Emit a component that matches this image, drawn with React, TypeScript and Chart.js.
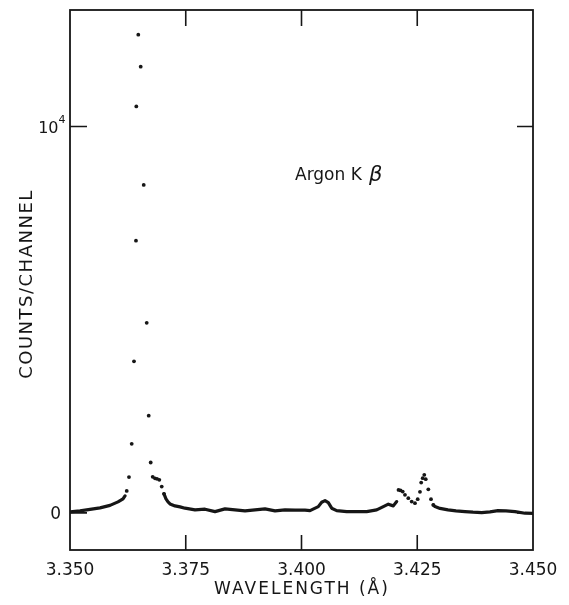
import React, { useEffect, useRef } from "react";
import { Chart, registerables } from "chart.js";

Chart.register(...registerables);

// Axis ticks
const X_TICKS = [3.35, 3.375, 3.4, 3.425, 3.45];
const X_TICK_LABELS = ["3.350", "3.375", "3.400", "3.425", "3.450"];
const Y_TICKS = [0, 10000];

// Continuous baseline left of the main peak
const LEFT_WL = [3.35, 3.35216, 3.35432, 3.35648, 3.35864, 3.36037, 3.36145, 3.36188];
const LEFT_COUNTS = [26, 52, 91, 130, 194, 285, 363, 441];

// Individual channels of the Kβ peak
const PEAK_WL = [
  3.36225, 3.36274, 3.36333, 3.36382, 3.36425, 3.36432, 3.36475, 3.36527, 3.36592,
  3.36657, 3.367, 3.36743, 3.36786, 3.36836, 3.36879, 3.36929, 3.36981, 3.3703,
];
const PEAK_COUNTS = [
  570, 926, 1789, 3923, 7045, 10520, 12377, 11547, 8487,
  4919, 2515, 1304, 934, 895, 882, 856, 682, 493,
];

// Continuous baseline between peak and doublet
const MID_WL = [
  3.3703, 3.37073, 3.37117, 3.3716, 3.37268, 3.37376, 3.37484, 3.377, 3.37916, 3.38132,
  3.38348, 3.38564, 3.3878, 3.38996, 3.39212, 3.39428, 3.39644, 3.3986, 3.40076, 3.40184,
  3.40363, 3.40436, 3.40508, 3.40579, 3.40652, 3.4076, 3.40976, 3.41192, 3.41408, 3.41624,
  3.41767, 3.41875, 3.41983, 3.42056,
];
const MID_COUNTS = [
  493, 363, 285, 233, 181, 156, 122, 78, 96, 34,
  104, 78, 52, 78, 104, 52, 78, 70, 70, 60,
  163, 277, 319, 267, 122, 60, 34, 34, 34, 78,
  163, 226, 182, 293,
];

// Individual channels of the satellite doublet
const DOUBLET_WL = [
  3.42095, 3.42138, 3.42186, 3.42235, 3.42307, 3.4238, 3.42451, 3.4251, 3.42559,
  3.42585, 3.42618, 3.42652, 3.42683, 3.42739, 3.42797, 3.42847,
];
const DOUBLET_COUNTS = [
  596, 583, 552, 467, 381, 293, 252, 355, 545,
  786, 900, 985, 874, 609, 355, 207,
];

// Continuous baseline right of the doublet
const RIGHT_WL = [
  3.42847, 3.42883, 3.42991, 3.43164, 3.43337, 3.43531, 3.43704, 3.43892, 3.44071,
  3.44244, 3.44417, 3.44611, 3.44827, 3.45,
];
const RIGHT_COUNTS = [207, 163, 117, 78, 52, 34, 18, 8, 26, 60, 52, 34, -8, -13];

const Y_MIN = -960;
const Y_MAX = 13015;

const INK = "#161616";
const FONT = '"DejaVu Sans", "Liberation Sans", sans-serif';

const pts = (xs: number[], ys: number[]) => xs.map((x, i) => ({ x, y: ys[i] }));

const framePlugin = {
  id: "frameAndLabels",
  afterDraw(chart: any) {
    const { ctx, chartArea } = chart;
    const xs = chart.scales.x;
    const ys = chart.scales.y;
    const { left, right, top, bottom } = chartArea;
    ctx.save();
    ctx.strokeStyle = INK;
    ctx.fillStyle = INK;
    ctx.lineWidth = 1.8;
    ctx.strokeRect(left, top, right - left, bottom - top);

    // inward ticks
    ctx.lineWidth = 1.6;
    X_TICKS.forEach((v, i) => {
      if (i === 0 || i === X_TICKS.length - 1) return;
      const px = xs.getPixelForValue(v);
      ctx.beginPath();
      ctx.moveTo(px, bottom);
      ctx.lineTo(px, bottom - 15);
      ctx.moveTo(px, top);
      ctx.lineTo(px, top + 16);
      ctx.stroke();
    });
    Y_TICKS.forEach((v) => {
      const py = ys.getPixelForValue(v);
      ctx.beginPath();
      ctx.moveTo(left, py);
      ctx.lineTo(left + 17, py);
      ctx.moveTo(right, py);
      ctx.lineTo(right - 16, py);
      ctx.stroke();
    });

    // x tick labels
    ctx.font = `17px ${FONT}`;
    ctx.textAlign = "center";
    ctx.textBaseline = "alphabetic";
    X_TICKS.forEach((v, i) => {
      ctx.fillText(X_TICK_LABELS[i], xs.getPixelForValue(v), 575);
    });

    // y tick labels
    const y0 = ys.getPixelForValue(0);
    const y4 = ys.getPixelForValue(10000);
    ctx.textAlign = "right";
    ctx.fillText("0", 61, y0 + 6.5);
    ctx.font = `16px ${FONT}`;
    ctx.fillText("10", 58.5, y4 + 6);
    ctx.textAlign = "left";
    ctx.font = `11px ${FONT}`;
    ctx.fillText("4", 58.5, y4 - 4);

    // x title
    ctx.font = `17px ${FONT}`;
    ctx.textAlign = "center";
    (ctx as any).letterSpacing = "2px";
    ctx.fillText("WAVELENGTH (Å)", 302, 594);

    // y title
    ctx.save();
    ctx.translate(32, 284);
    ctx.rotate(-Math.PI / 2);
    ctx.font = `18px ${FONT}`;
    (ctx as any).letterSpacing = "1.5px";
    ctx.textAlign = "center";
    ctx.fillText("COUNTS/CHANNEL", 0, 0);
    ctx.restore();

    // annotation
    (ctx as any).letterSpacing = "0px";
    ctx.textAlign = "left";
    ctx.font = `17px ${FONT}`;
    ctx.fillText("Argon K", 295, 180);
    ctx.font = `italic 21px ${FONT}`;
    ctx.fillText("β", 369, 181);
    ctx.restore();
  },
};

export default function App() {
  const ref = useRef<HTMLCanvasElement | null>(null);

  useEffect(() => {
    if (!ref.current) return;
    const lineDs = (label: string, data: any[]) => ({
      label,
      data,
      showLine: true,
      borderColor: INK,
      borderWidth: 3.2,
      pointRadius: 0,
      tension: 0,
      borderJoinStyle: "round" as const,
      borderCapStyle: "round" as const,
    });
    const dotDs = (label: string, data: any[]) => ({
      label,
      data,
      showLine: false,
      pointRadius: 1.9,
      pointBackgroundColor: INK,
      pointBorderWidth: 0,
      borderColor: INK,
    });
    const chart = new Chart(ref.current, {
      type: "scatter",
      data: {
        datasets: [
          lineDs("left baseline", pts(LEFT_WL, LEFT_COUNTS)),
          dotDs("peak", pts(PEAK_WL, PEAK_COUNTS)),
          lineDs("middle baseline", pts(MID_WL, MID_COUNTS)),
          dotDs("doublet", pts(DOUBLET_WL, DOUBLET_COUNTS)),
          lineDs("right baseline", pts(RIGHT_WL, RIGHT_COUNTS)),
        ],
      },
      options: {
        responsive: false,
        animation: false,
        devicePixelRatio: 1,
        layout: { padding: { left: 70, top: 10, right: 36, bottom: 55 } },
        plugins: { legend: { display: false }, tooltip: { enabled: false } },
        scales: {
          x: { type: "linear", min: 3.35, max: 3.45, display: false },
          y: { type: "linear", min: Y_MIN, max: Y_MAX, display: false },
        },
      },
      plugins: [framePlugin],
    });
    return () => chart.destroy();
  }, []);

  return (
    <div style={{ position: "absolute", left: 0, top: 0, width: 569, height: 605, background: "#fff" }}>
      <canvas ref={ref} width={569} height={605} />
    </div>
  );
}
